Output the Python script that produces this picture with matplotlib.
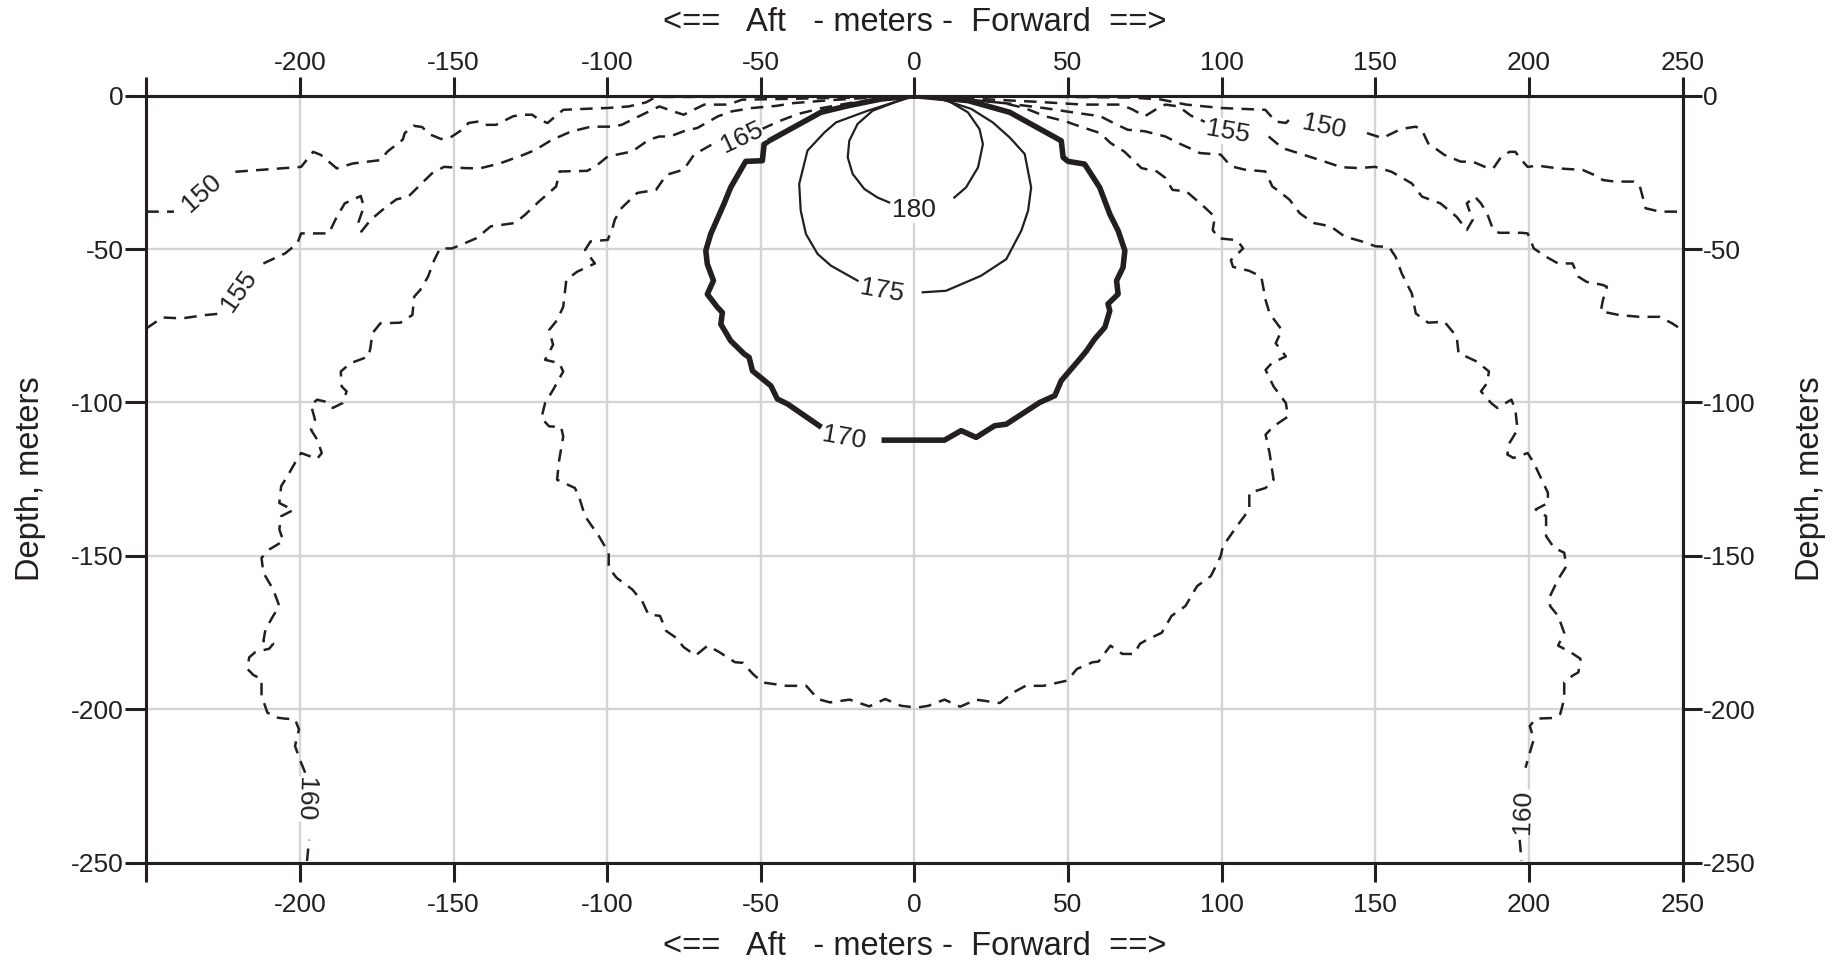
import numpy as np
import matplotlib
matplotlib.use('Agg')
import matplotlib.pyplot as plt

nan = np.nan

X_TICKS = [-250, -200, -150, -100, -50, 0, 50, 100, 150, 200, 250]
X_TICK_LABELS = ['', '-200', '-150', '-100', '-50', '0', '50', '100', '150', '200', '250']
Y_TICKS = [0, -50, -100, -150, -200, -250]
Y_TICK_LABELS = ['0', '-50', '-100', '-150', '-200', '-250']

X_LABEL = '<==   Aft   - meters -  Forward  ==>'
Y_LABEL = 'Depth, meters'

# contour traces (x in m, depth in m), nan = gap for the level label
C150_X = [-250, -241, nan, -221, -199.6, -195.7, -193.2, -188.0, -182.8, -173.8, -171.5, -166.5,
          -165.9, -163.1, -160.3, -157.5, -154.1, -151.3, -146.3, -145.2, -141.8, -140.1, -136.2,
          -130.6, -127.8, -124.4, -122.2, -119.4, -114.3, -107.6, -99.8, -93.0, -87.4, -84.1, -70,
          -40, 0, 40, 70, 80, 85, 88.5, 99.7, 114.2, 117.6, 120.9, 123.7, nan, 147.3, 152.3, 157.9,
          159.3, 163.2, 165.2, 167.2, 172.5, 177.8, 181.7, 185.7, 188.4, 191.0, 193.7, 195.6, 197.6,
          199.6, 202.9, 209.5, 217.5, 221.4, 224.1, 228.0, 234.0, 236.0, 237.3, 238.0, 242.6, 250]
C150_Y = [-37.8, -37.8, nan, -24.8, -23.2, -18.3, -19.3, -23.7, -22.1, -21.0, -18.2, -14.3,
          -12.2, -9.8, -10.2, -12.7, -14.1, -13.8, -10.5, -8.9, -8.4, -9.5, -9.5,
          -6.7, -6.2, -6.2, -7.8, -8.9, -4.6, -4.3, -4.0, -3.5, -2.2, -0.4, -0.4,
          -0.3, 0, -0.3, -0.6, -1.2, -2.2, -2.9, -4.0, -4.6, -8.4, -8.9, -6.2, nan, -12.2, -13.8, -11.1,
          -10.7, -10.1, -11.2, -15.5, -19.3, -21.5, -21.5, -23.2, -23.7, -19.9, -18.3, -18.3, -21.0,
          -23.2, -22.8, -23.7, -24.2, -25.9, -27.5, -28.0, -28.0, -29.1, -34.0, -36.7, -37.8, -37.8]

C155_X = [-250, -244.8, -238.4, -230.6, -225.4, nan, -211.9, -204.8, -200.9, -199.6, -190.6, -188.0,
          -185.4, -180.2, -179.2, -180.9, -180.0, -177.0, -172.5, -168.6, -164.7, -160.9, -157.0,
          -153.1, -146.3, -141.5, -135.0, -127.3, -123.4, -118.2, -111.8, -105.3, -98.8, -95.3,
          -88.6, -83.0, -78.5, -75.1, -72.9, -68.4, -60.5, -56.1, -40, -20, 0, 20, 40, 55, 59.4,
          67.2, 71, 75.0, 78.4, 81.7, 86, 90, 94.5, nan, 115.3, 119.8, 126.5, 133.3, 138.9, 144.5,
          150, 155.3, 161.9, 165.2, 171.2, 176.5, 179.8, 181.7, 179.8, 182.4, 184.4, 186.4, 188.4,
          190.3, 197.6, 199.6, 201.6, 205.6, 209.5, 214.2, 216.1, 218.8, 224.1, 225.4, 224.1, 223.4,
          229.4, 236.0, 242.6, 246.6, 250]
C155_Y = [-75.9, -72.3, -72.6, -71.5, -71.0, nan, -54.7, -51.4, -48.2, -44.9, -44.9, -39.5,
          -35.1, -32.7, -36.2, -41.1, -44.3, -40.5, -36.7, -33.8, -32.9, -29.1, -25.3,
          -23.2, -23.6, -23.7, -22.1, -19.3, -17.7, -14.5, -11.7, -10.1, -10.1, -9.5,
          -6.2, -3.5, -5.1, -6.2, -5.1, -2.9, -2.9, -1.3, -1.0, -0.6, 0, -1.0, -2.0, -2.9, -2.9,
          -2.9, -4.5, -6.7, -4.6, -2.9, -3.5, -6.5, -8.5, nan, -13.3, -17.1, -19.2, -21.4, -23.3, -23.6,
          -23.2, -24.8, -28.6, -32.9, -35.1, -39.5, -43.8, -40.5, -35.1, -32.9, -35.1, -38.4, -43.8,
          -44.7, -44.7, -44.9, -49.8, -52.5, -54.7, -54.7, -59.0, -60.7, -61.7, -62.3, -66.6, -70.3,
          -71.5, -72.1, -72.1, -74.2, -76.4]

C160_X = [-197.7, -197.0, nan, -198.3, -199.6, -201.6, -200.3, -201.6, -204.8, -208.0, -210.6, -212.5,
          -212.5, -215.1, -217.1, -216.5, -214.5, -210.0, -208.7, -211.9, -211.2, -208.7, -206.7,
          -208.7, -211.9, -212.5, -209.9, -205.4, -206.7, -206.1, -202.2, -206.7, -206.1, -204.1,
          -201.6, -199.6, -194.4, -192.9, -194.4, -196.4, -195.1, -196.4, -194.4, -191.9, -189.3,
          -186.1, -184.8, -186.4, -186.7, -183.5, -177.6, -177.0, -176.4, -173.8, -167.3, -163.4,
          -162.8, -160.9, -158.3, -156.3, -154.4, -150.5, -146.6, -142.4, -137.9, -130.0, -126.7,
          -122.2, -116.6, -115.5, -106.5, -103.7, -99.8, -91.9, -86.3, -83.0, -79.6, -75.1, -70.6,
          -67.8, -63.9, -59.4, -52.7, -44.8, -39.2, -28, -16.8, 0, 15, 30, 42, 52, 60.5, 65, 69.4,
          75.0, 81.7, 86, 89.6, 92.9, 99.7, 103.0, 107.5, 114.2, 116.5, 118.7, 122.1, 125.4, 129.9,
          135.5, 140.0, 145.6, 150.1, 154.5, 156.6, 158.6, 161.9, 163.2, 167.2, 172.5, 176.5, 177.1,
          183.1, 187.0, 186.4, 184.4, 187.7, 189.7, 194.3, 195.6, 196.3, 193.7, 193.0, 195.0, 199.6,
          201.6, 204.2, 206.2, 206.2, 202.2, 205.6, 205.6, 208.2, 211.5, 212.2, 209.5, 206.9, 206.9,
          209.5, 211.5, 209.5, 213.5, 216.8, 216.1, 214.2, 211.5, 211.5, 210.2, 207.5, 202.2, 200.3,
          201.6, 200.3, 198.9, nan, 197.0, 197.6]
C160_Y = [-249.5, -242.6, nan, -220.7, -217.5, -212.0, -206.6, -203.3, -203.1, -202.7, -201.1, -195.6,
          -190.2, -188.9, -186.9, -183.1, -181.4, -180.3, -178.7, -177.8, -174.0, -169.6, -166.4,
          -161.0, -155.5, -150.7, -147.9, -145.2, -141.4, -137.1, -135.1, -132.8, -127.3, -124.1,
          -119.7, -116.5, -118.4, -116.5, -112.1, -108.9, -105.6, -100.8, -99.1, -99.7, -101.8,
          -100.2, -96.4, -94.8, -89.9, -87.2, -85.0, -81.8, -77.4, -74.2, -74.0, -71.5,
          -65.5, -63.4, -59.0, -53.6, -49.8, -49.8, -48.2, -46.4, -42.6, -41.5, -38.8,
          -34.5, -29.6, -24.7, -24.5, -23.0, -19.8, -18.2, -14.3, -13.3, -13.3, -11.6, -10.5,
          -8.9, -6.7, -5.1, -4.0, -3.3, -2.4, -1.5, -0.8, 0, -1.0, -2.5, -4.0, -5.5, -6.7, -9.0, -11.1,
          -11.6, -13.3, -15.5, -17.1, -18.7, -19.2, -23.0, -24.1, -24.7, -29.6, -31.2, -33.9, -38.3, -41.5,
          -42.6, -45.9, -47.5, -49.1, -49.3, -52.5, -57.9, -64.5, -71.0, -74.0, -73.7, -78.5, -83.9,
          -86.7, -89.9, -93.7, -96.4, -100.2, -101.8, -99.1, -102.4, -108.9, -113.2, -117.0, -118.1, -116.5,
          -119.7, -125.2, -129.5, -132.8, -134.9, -137.1, -143.6, -147.4, -149.0, -153.4, -157.7, -163.1, -166.4,
          -169.6, -175.1, -179.3, -181.4, -183.6, -188.0, -189.1, -191.3, -196.7, -201.6, -202.9, -203.1, -205.5,
          -209.8, -214.2, -219.1, nan, -242.6, -249.5]

C165_X = [0, -10, -20, -30, -38, -44, -49.5, nan, -66.1, -71.7, -75.1, -80.7, -84.1, -90.2, -95.3,
          -97.5, -98.1, -99.8, -105.4, -107.2, -104.0, -109.8, -113.3, -114.3, -116.3, -118.9, -117.6,
          -120.2, -115.6, -114.3, -117.6, -120.2, -121.4, -118.9, -115.0, -114.3, -115.6, -116.3,
          -110.5, -109.2, -107.2, -102.7, -99.5, -99.5, -96.9, -91.8, -88.6, -86.6, -82.8, -80.8,
          -77.6, -75.1, -71.2, -67.3, -63.5, -58.4, -55.8, -52.6, -49.4, -41.6, -35.2, -31.4, -27.5,
          -21.1, -18.5, -14.7, -9.5, -4.4, 0.8, 4.6, 9.8, 14.9, 20.1, 27.8, 32.3, 36.2, 42.0, 49.7,
          52.9, 58.0, 59.9, 63.8, 67.7, 71.5, 73.4, 76.0, 80.5, 83.7, 88.2, 92.0, 96.5, 99.7, 100.4,
          105.0, 109.0, 109.0, 114.3, 116.9, 115.6, 114.3, 116.9, 121.6, 120.9, 116.9, 114.3, 116.3,
          120.9, 117.6, 119.6, 115.6, 114.3, 112.9, 109.0, 103.7, 103.0, 107.0, 105.0, 99.1, 97.1,
          97.8, 93.5, 88.5, 84.0, 81.7, 78.9, 73.9, 68.3, 63.8, 60.5, 53.8, 49.3, 42.6, 35.8, 29.1,
          15, 0]
C165_Y = [0, -1.0, -2.2, -4.0, -6.0, -8.3, -10.8, nan, -16.0, -19.2, -24.1, -25.8, -30.7, -31.7, -36.6,
          -40.4, -42.6, -47.0, -47.5, -50.3, -54.7, -57.4, -60.1, -68.8, -73.2, -76.4, -81.2,
          -86.1, -87.2, -89.9, -95.9, -100.2, -105.1, -107.8, -108.0, -111.1, -118.7, -125.2,
          -127.9, -130.6, -137.1, -143.6, -149.0, -153.9, -157.2, -161.0, -164.8, -169.1, -169.6, -174.5,
          -176.7, -179.8, -182.5, -179.3, -181.4, -184.7, -184.9, -188.5, -191.3, -192.4, -192.4, -196.7, -197.8,
          -196.9, -197.8, -199.1, -196.7, -198.9, -199.5, -198.9, -196.9, -199.2, -196.9, -198.0, -194.5, -192.4, -192.4, -190.7,
          -186.9, -184.7, -184.5, -179.3, -182.0, -182.0, -178.7, -177.2, -175.1, -169.6, -166.4, -159.9, -156.6, -150.1, -146.9,
          -140.3, -134.9, -129.5, -127.9, -125.2, -116.5, -110.5, -107.8, -104.6, -100.2, -94.8, -89.4, -87.2,
          -85.0, -80.7, -76.4, -71.0, -66.6, -59.0, -57.1, -55.8, -53.6, -49.8, -47.1, -46.5, -43.8,
          -39.5, -35.5, -31.2, -30.7, -26.8, -24.7, -23.6, -18.2, -15.4, -12.2, -10.0, -8.4, -6.7, -4.0, -2.4,
          -1.0, 0]

C170_X = [0, -10.9, -21.7, -30.4, -47.3, -48.9, -49.5, -54.9, -59.8, -62.0, -66.3, -67.9, -67.4, -65.4,
          -67.4, -64.1, -62.5, -63.0, -59.8, -55.4, -53.8, -52.7, -46.7, -44.6, -41.3, -31.0, nan,
          -9.8, 9.8, 15.2, 20.1, 26.1, 29.9, 40.8, 45.7, 47.8, 54.3, 56.0, 58.7, 62.0, 63.6, 63.0,
          66.3, 65.8, 67.9, 68.5, 66.3, 63.6, 60.3, 55.4, 50.0, 48.4, 47.8, 31.0, 17.4, 0]
C170_Y = [0, -1.1, -3.3, -5.4, -14.7, -15.8, -21.2, -21.4, -29.9, -35.3, -45.1, -50.5, -54.9, -60.3,
          -64.7, -69.0, -70.7, -74.5, -79.9, -84.2, -85.3, -89.7, -94.6, -98.9, -100.5, -107.6, nan,
          -112.3, -112.3, -109.2, -111.4, -107.6, -107.1, -100.0, -97.8, -92.9, -85.3, -83.2, -79.3, -75.5, -70.1, -67.9,
          -64.7, -60.3, -56.0, -50.5, -44.0, -38.6, -29.9, -22.3, -21.4, -20.1, -14.7, -5.4, -1.6, 0]

C175_X = [0, -15.2, -25.5, -29.3, -34.8, -37.5, -37.0, -35.3, -31.5, -27.2, -18.5, nan,
          2.7, 10.3, 21.7, 29.9, 34.8, 37.0, 38.0, 35.9, 31.0, 25.5, 18.5, 8.7, 0]
C175_Y = [0, -4.9, -8.7, -12.0, -17.9, -28.8, -37.5, -45.1, -51.6, -55.4, -60.3, nan,
          -64.1, -63.6, -58.7, -53.3, -44.0, -37.5, -29.9, -19.0, -13.6, -8.7, -4.3, -1.1, 0]

C180_X = [0, -6.5, -13.6, -18.5, -21.2, -21.7, -20.1, -16.3, -12.0, -8.2, nan,
          13.0, 16.8, 20.7, 22.3, 21.2, 17.4, 10.9, 0]
C180_Y = [0, -2.2, -4.9, -9.2, -14.7, -20.1, -25.5, -30.4, -33.2, -34.8, nan,
          -33.2, -29.9, -23.4, -15.8, -10.9, -5.4, -1.6, 0]

LABEL_TEXT = ['180', '175', '170', '165', '155', '150', '150', '155', '160', '160']
LABEL_X = [-0.1, -10.7, -23.0, -56.3, 101.9, 133.3, -231.9, -220.0, -198.3, 197.9]
LABEL_Y = [-37.2, -63.8, -111.6, -13.6, -11.8, -10.0, -31.8, -63.6, -229.3, -233.5]
LABEL_ROT = [0, -10, -10, 25, -10, -12, 42, 55, -92, 88]

INK = '#231f20'
GRID = '#d4d4d4'

plt.rcParams['font.family'] = ['Liberation Sans', 'DejaVu Sans']
plt.rcParams['axes.unicode_minus'] = False

fig = plt.figure(figsize=(18.37, 9.63), dpi=100)
ax = fig.add_axes([0.07964, 0.10436, 0.83626, 0.79626])
ax.set_xlim(-250, 250)
ax.set_ylim(-250, 0)
ax.set_axisbelow(True)
ax.grid(True, color=GRID, linewidth=1.7)

dashed = dict(color=INK, linewidth=1.8, dashes=(5.0, 3.3), zorder=3)
for xs, ys in [(C150_X, C150_Y), (C155_X, C155_Y), (C160_X, C160_Y), (C165_X, C165_Y)]:
    ax.plot(xs, ys, **dashed)
ax.plot(C170_X, C170_Y, color=INK, linewidth=4.0, solid_joinstyle='round', zorder=4)
ax.plot(C175_X, C175_Y, color=INK, linewidth=1.6, zorder=4)
ax.plot(C180_X, C180_Y, color=INK, linewidth=1.6, zorder=4)

for txt, lx, ly, rot in zip(LABEL_TEXT, LABEL_X, LABEL_Y, LABEL_ROT):
    ax.text(lx, ly, txt, fontsize=19, color=INK, rotation=rot, rotation_mode='anchor',
            ha='center', va='center', zorder=5,
            bbox=dict(facecolor='white', edgecolor='none', pad=0.5))

for sp in ax.spines.values():
    sp.set_color(INK)
    sp.set_linewidth(2.2)
    sp.set_zorder(6)

ax.set_xticks(X_TICKS, X_TICK_LABELS)
ax.set_yticks(Y_TICKS, Y_TICK_LABELS)
ax.tick_params(axis='x', direction='out', length=13.7, width=2.2, color=INK, labelcolor=INK,
               labelsize=19, pad=8)
ax.tick_params(axis='y', direction='out', length=14.8, width=2.2, color=INK, labelcolor=INK,
               labelsize=19, pad=1.5)
ax.set_xlabel(X_LABEL, fontsize=23.5, color=INK, labelpad=10)
ax.set_ylabel(Y_LABEL, fontsize=23.5, color=INK, labelpad=18)

secx = ax.secondary_xaxis('top')
secx.set_xticks(X_TICKS, X_TICK_LABELS)
secx.tick_params(direction='out', length=13.7, width=2.2, color=INK, labelcolor=INK,
                 labelsize=19, pad=1)
secx.spines['top'].set_linewidth(2.2)
secx.spines['top'].set_color(INK)
secx.set_xlabel(X_LABEL, fontsize=23.5, color=INK, labelpad=14.5)

secy = ax.secondary_yaxis('right')
secy.set_yticks(Y_TICKS, Y_TICK_LABELS)
secy.tick_params(direction='out', length=14, width=2.2, color=INK, labelcolor=INK,
                 labelsize=19, pad=1)
secy.spines['right'].set_linewidth(2.2)
secy.spines['right'].set_color(INK)
secy.set_ylabel(Y_LABEL, fontsize=23.5, color=INK, labelpad=28, rotation=90)

fig.savefig('out.png', dpi=100)
